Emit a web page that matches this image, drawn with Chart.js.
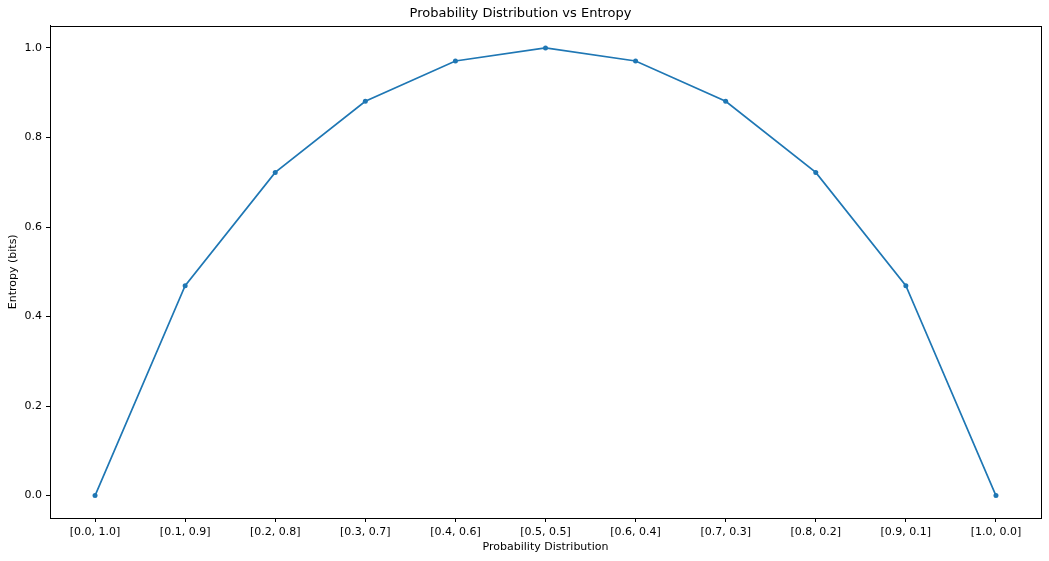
<!DOCTYPE html>
<html>
<head>
<meta charset="utf-8">
<script src="https://cdn.jsdelivr.net/npm/chart.js@4/dist/chart.umd.min.js"></script>
<style>
  html, body { margin: 0; padding: 0; background: #fff; }
  #wrap { width: 1049px; height: 561px; }
</style>
</head>
<body>
<div id="wrap"><canvas id="myChart"></canvas></div>
<script>
var categories = ['[0.0, 1.0]', '[0.1, 0.9]', '[0.2, 0.8]', '[0.3, 0.7]', '[0.4, 0.6]', '[0.5, 0.5]',
                  '[0.6, 0.4]', '[0.7, 0.3]', '[0.8, 0.2]', '[0.9, 0.1]', '[1.0, 0.0]'];
var entropy = [0.0, 0.469, 0.722, 0.881, 0.971, 1.0, 0.971, 0.881, 0.722, 0.469, 0.0];
var yTicks = [0.0, 0.2, 0.4, 0.6, 0.8, 1.0];

var font = 'DejaVu Sans';

// matplotlib style full box around the plot area
var boxPlugin = {
    id: 'box',
    afterDraw: function (chart) {
        var a = chart.chartArea, c = chart.ctx;
        c.save();
        c.strokeStyle = '#000';
        c.lineWidth = 1;
        c.strokeRect(Math.round(a.left) + 0.5, Math.round(a.top) + 0.5,
                     Math.round(a.right - a.left), Math.round(a.bottom - a.top));
        c.restore();
    }
};

function loadChart() {
    var ctx = document.getElementById('myChart').getContext('2d');
    new Chart(ctx, {
        type: 'line',
        data: {
            labels: categories,
            datasets: [{
                label: 'Entropy',
                data: entropy,
                borderColor: '#1f77b4',
                backgroundColor: '#1f77b4',
                borderWidth: 1.7,
                pointRadius: 2.5,
                pointBorderWidth: 0,
                pointBackgroundColor: '#1f77b4',
                tension: 0,
                fill: false
            }]
        },
        options: {
            responsive: true,
            maintainAspectRatio: false,
            animation: false,
            layout: { padding: { left: 0, right: 8, top: 0, bottom: 0 } },
            plugins: {
                legend: { display: false },
                tooltip: { enabled: false },
                title: {
                    display: true,
                    text: 'Probability Distribution vs Entropy',
                    color: '#000',
                    font: { family: font, size: 13, weight: 'normal' },
                    padding: { top: 6, bottom: 4 }
                }
            },
            scales: {
                x: {
                    type: 'category',
                    offset: true,
                    border: { display: true, color: '#000', width: 1 },
                    grid: {
                        display: true,
                        drawOnChartArea: false,
                        drawTicks: true,
                        tickLength: 4,
                        tickColor: '#000',
                        offset: false
                    },
                    ticks: {
                        color: '#000',
                        padding: 4,
                        maxRotation: 0,
                        autoSkip: false,
                        font: { family: font, size: 11 }
                    },
                    title: {
                        display: true,
                        text: 'Probability Distribution',
                        color: '#000',
                        font: { family: font, size: 11 },
                        padding: { top: 2, bottom: 7 }
                    },
                    afterFit: function (s) { s.height = 43; }
                },
                y: {
                    min: -0.05,
                    max: 1.05,
                    border: { display: true, color: '#000', width: 1 },
                    grid: {
                        display: true,
                        drawOnChartArea: false,
                        drawTicks: true,
                        tickLength: 4,
                        tickColor: '#000'
                    },
                    afterBuildTicks: function (s) {
                        s.ticks = yTicks.map(function (v) { return { value: v }; });
                    },
                    ticks: {
                        color: '#000',
                        padding: 4,
                        font: { family: font, size: 11 },
                        callback: function (v) { return Number(v).toFixed(1); }
                    },
                    title: {
                        display: true,
                        text: 'Entropy (bits)',
                        color: '#000',
                        font: { family: font, size: 11 },
                        padding: { top: 7, bottom: 0 }
                    },
                    afterFit: function (s) { s.width = 50; }
                }
            }
        },
        plugins: [boxPlugin]
    });
}
loadChart();
</script>
</body>
</html>
